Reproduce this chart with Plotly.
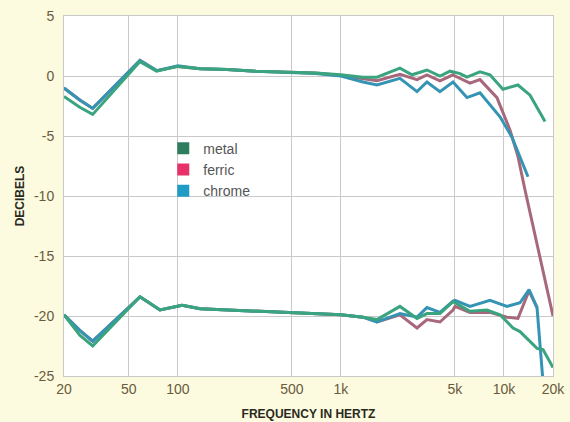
import plotly.graph_objects as go

# ---------------- data ----------------
tick_vals = [20, 50, 100, 500, 1000, 5000, 10000, 20000]
tick_text = ["20", "50", "100", "500", "1k", "5k", "10k", "20k"]
y_tick_vals = [5, 0, -5, -10, -15, -20, -25]
y_tick_text = ["5", "0", "-5", "-10", "-15", "-20", "-25"]
series_names = ["metal", "ferric", "chrome"]

# upper group (0 dB reference)
up_metal_f = [20, 25, 30, 58.5, 74, 100, 137, 200, 300, 500, 700, 1000, 1366, 1664,
              2302, 2730, 3370, 4050, 4670, 5380, 5930, 7130, 8210, 9860, 12190, 14460, 17870]
up_metal_db = [-1.7, -2.6, -3.2, 1.2, 0.4, 0.8, 0.6, 0.55, 0.4, 0.3, 0.25, 0.1, -0.1, -0.1,
               0.65, 0.1, 0.5, 0.0, 0.4, 0.2, -0.1, 0.35, 0.1, -1.1, -0.75, -1.6, -3.8]

up_ferric_f = [20, 25, 30, 58.5, 74, 100, 137, 200, 300, 500, 700, 1000, 1366, 1664,
               2302, 2930, 3370, 4050, 4870, 5010, 6190, 7130, 9060, 10890, 12190, 13470, 20000]
up_ferric_db = [-1.0, -2.0, -2.7, 1.3, 0.45, 0.8, 0.6, 0.55, 0.4, 0.3, 0.25, 0.05, -0.2, -0.4,
                0.15, -0.3, 0.1, -0.4, 0.1, 0.0, -0.6, -0.3, -1.8, -4.5, -6.7, -9.5, -20.0]

up_chrome_f = [20, 25, 30, 58.5, 74, 100, 137, 200, 300, 500, 700, 1000, 1366, 1664,
               2302, 2930, 3370, 4050, 4870, 5930, 7130, 9460, 11200, 14050]
up_chrome_db = [-1.0, -2.0, -2.7, 1.3, 0.45, 0.85, 0.6, 0.55, 0.4, 0.3, 0.2, 0.0, -0.5, -0.75,
                -0.2, -1.3, -0.5, -1.3, -0.5, -1.8, -1.4, -3.4, -5.1, -8.4]

# lower group (-20 dB reference)
lo_metal_f = [20, 25, 30, 58.5, 77.6, 106, 137, 200, 300, 500, 700, 1000, 1366, 1664,
              2302, 2930, 3370, 4050, 4870, 5010, 6190, 7870, 9460, 11370, 12550, 15960, 17370, 20000]
lo_metal_db = [-19.9, -21.6, -22.5, -18.4, -19.5, -19.1, -19.4, -19.5, -19.6, -19.75, -19.85, -19.9,
               -20.1, -20.3, -19.2, -20.2, -19.8, -19.8, -18.8, -18.9, -19.6, -19.5, -19.9, -21.0,
               -21.3, -22.7, -22.8, -24.3]

lo_ferric_f = [20, 25, 30, 58.5, 77.6, 106, 137, 200, 300, 500, 700, 1000, 1366, 1664,
               2302, 2930, 3370, 4050, 4870, 5010, 6190, 8210, 10440, 12190, 14260, 15960]
lo_ferric_db = [-19.9, -21.2, -22.1, -18.4, -19.5, -19.1, -19.4, -19.5, -19.6, -19.75, -19.85, -19.9,
                -20.1, -20.5, -19.9, -21.0, -20.3, -20.5, -19.5, -19.2, -19.7, -19.7, -20.1, -20.2,
                -17.9, -19.3]

lo_chrome_f = [20, 25, 30, 58.5, 77.6, 106, 137, 200, 300, 500, 700, 1000, 1366, 1664,
               2302, 2930, 3370, 4050, 4870, 5010, 6190, 8210, 10440, 12550, 14260, 15960, 17370]
lo_chrome_db = [-19.9, -21.2, -22.1, -18.4, -19.5, -19.1, -19.4, -19.5, -19.6, -19.75, -19.85, -19.9,
                -20.1, -20.5, -19.8, -20.1, -19.3, -19.7, -18.75, -18.7, -19.2, -18.7, -19.2, -18.9,
                -17.8, -19.3, -25.5]

# ---------------- styles ----------------
legend_colors = {"metal": "#2e7d5e", "ferric": "#e8306a", "chrome": "#1e9cc6"}
line_colors = {"metal": "#3aa47e", "ferric": "#a8687c", "chrome": "#3594b4"}

fig = go.Figure()

curves = [
    ("ferric", up_ferric_f, up_ferric_db),
    ("chrome", up_chrome_f, up_chrome_db),
    ("metal", up_metal_f, up_metal_db),
    ("ferric", lo_ferric_f, lo_ferric_db),
    ("chrome", lo_chrome_f, lo_chrome_db),
    ("metal", lo_metal_f, lo_metal_db),
]
for name, f, db in curves:
    fig.add_trace(go.Scatter(
        x=f, y=db, mode="lines", showlegend=False, hoverinfo="skip",
        line=dict(color=line_colors[name], width=3),
    ))

for name in series_names:
    fig.add_trace(go.Scatter(
        x=[None], y=[None], mode="markers", name=name,
        marker=dict(symbol="square", size=12, color=legend_colors[name]),
    ))

grid = "#c9c9c9"
tick_font = dict(family="Liberation Sans, Arial, sans-serif", size=14, color="#6a5a3c")
title_font = dict(family="Liberation Sans, Arial, sans-serif", size=12, color="#2a2a1c")

fig.update_layout(
    width=570, height=422,
    margin=dict(l=64, r=17, t=16, b=46),
    paper_bgcolor="#fcfadf",
    plot_bgcolor="#ffffff",
    showlegend=True,
    legend=dict(
        x=0.203, y=0.676, xanchor="left", yanchor="top",
        bgcolor="rgba(0,0,0,0)",
        font=dict(family="Liberation Sans, Arial, sans-serif", size=14, color="#555555"),
        itemwidth=30, tracegroupgap=0,
    ),
    xaxis=dict(
        type="log",
        range=[1.30103, 4.30103],
        tickvals=tick_vals, ticktext=tick_text,
        showgrid=True, gridcolor=grid, gridwidth=1,
        showline=True, linecolor=grid, mirror=True,
        zeroline=False, ticks="", automargin=False,
        tickfont=tick_font,
        title=dict(text="<b>FREQUENCY IN HERTZ</b>", font=title_font, standoff=13),
    ),
    yaxis=dict(
        range=[-25, 5],
        tickvals=y_tick_vals, ticktext=y_tick_text,
        showgrid=True, gridcolor=grid, gridwidth=1,
        showline=True, linecolor=grid, mirror=True,
        zeroline=False, ticks="", automargin=False,
        tickfont=tick_font,
        ticklabelstandoff=6,
        title=dict(text="<b>DECIBELS</b>", font=title_font, standoff=6),
    ),
)

fig.write_html("out.html", config={"displayModeBar": False},
               post_script="document.body.style.margin='0';")
